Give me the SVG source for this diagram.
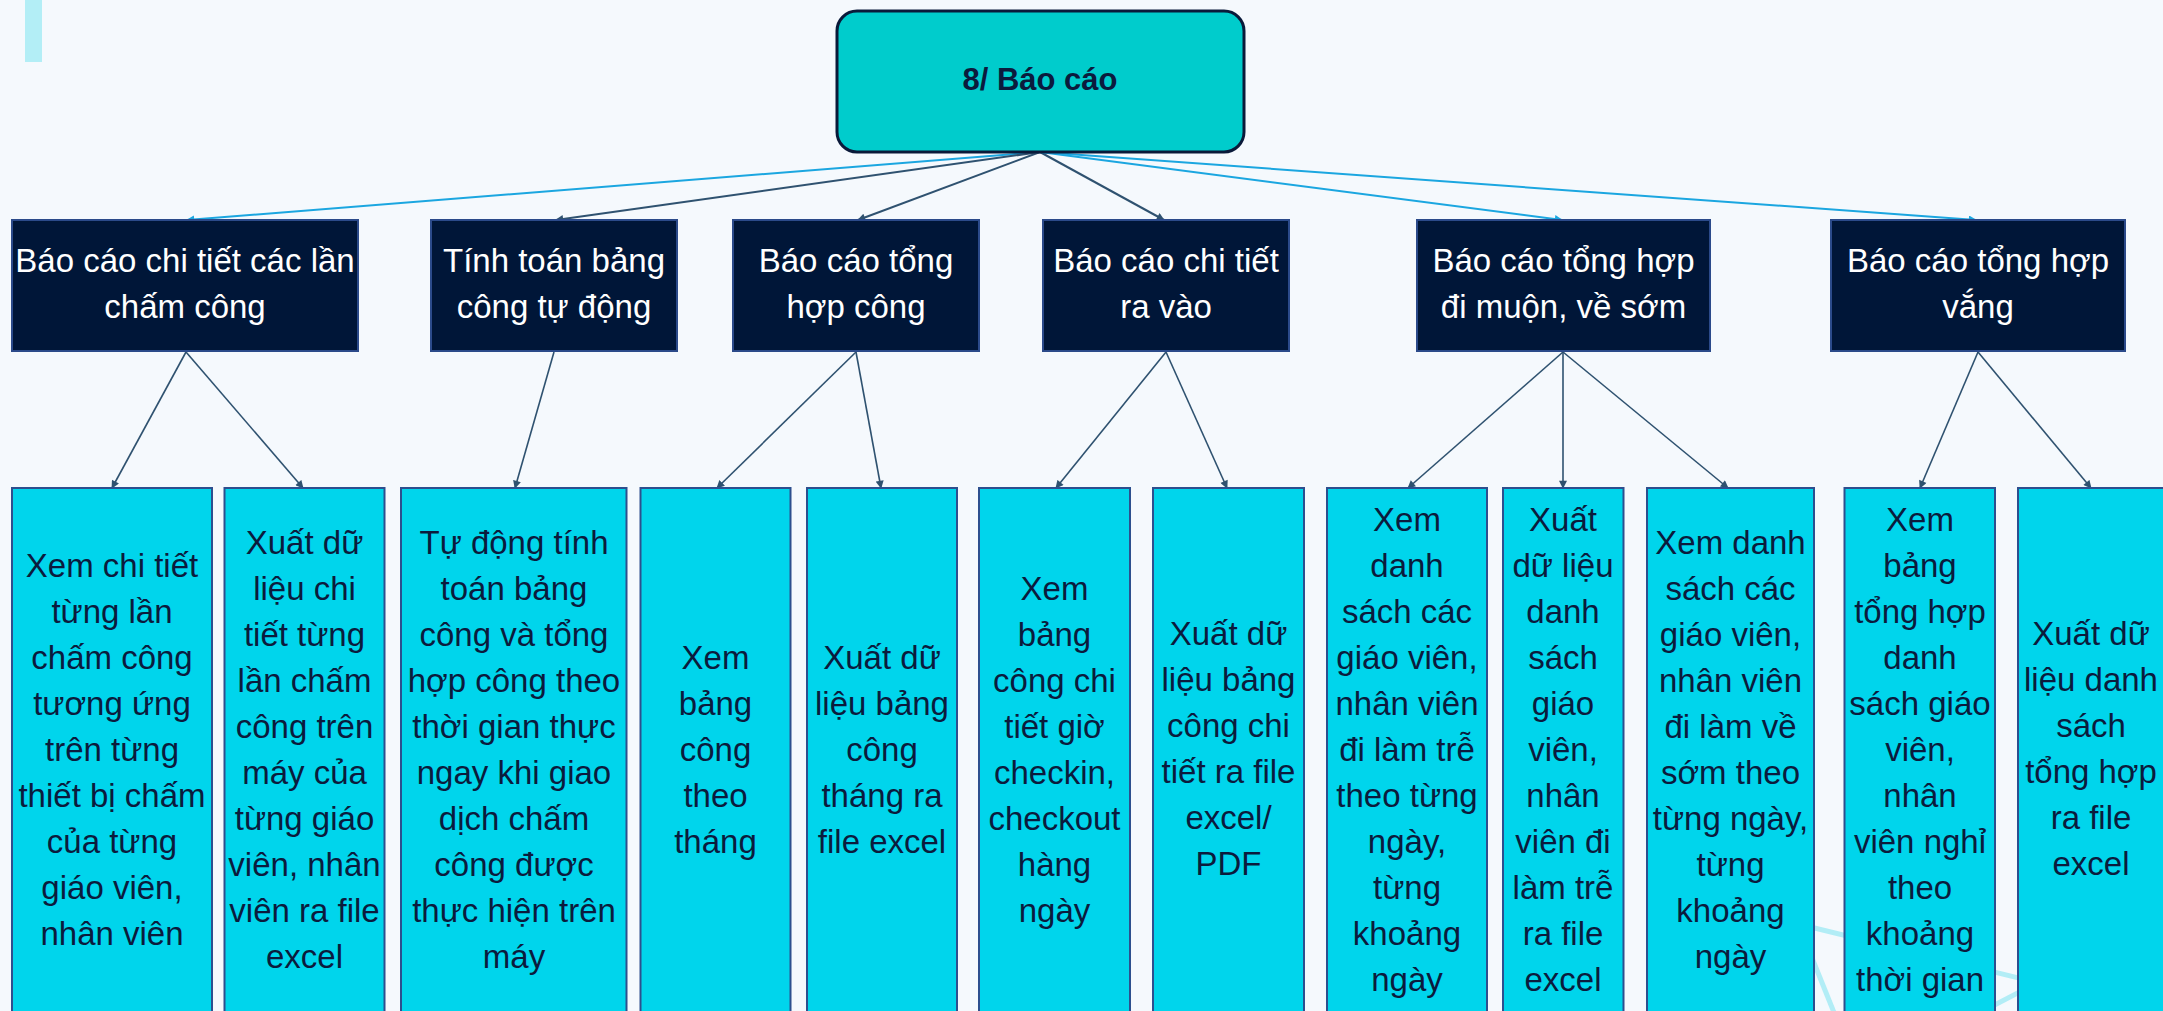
<svg xmlns="http://www.w3.org/2000/svg" width="2163" height="1011" viewBox="0 0 2163 1011">
<defs>
<style>
.bg{fill:#f5f9fd}
.root{fill:#00cccc;stroke:#0a1a3a;stroke-width:3}
.rt{font-family:"Liberation Sans",Arial,sans-serif;font-weight:bold;font-size:31px;fill:#0b1b3d;text-anchor:middle}
.l2{fill:#001638;stroke:#2b4a8a;stroke-width:2}
.t2{font-family:"Liberation Sans",Arial,sans-serif;font-size:33px;fill:#ffffff;text-anchor:middle}
.l3{fill:#00d5ec;stroke:#2d4f8e;stroke-width:2}
.t3{font-family:"Liberation Sans",Arial,sans-serif;font-size:33px;fill:#0b1b3d;text-anchor:middle}
.cb{stroke:#1ba6e0;stroke-width:2;fill:none;marker-end:url(#ab)}
.cd{stroke:#2f5270;stroke-width:2;fill:none;marker-end:url(#ad)}
.cs{stroke:#2f5270;stroke-width:1.6;fill:none;marker-end:url(#ad)}
.deco{stroke:#b2edf6;stroke-width:5;fill:none}
</style>
<marker id="ab" viewBox="0 0 10 10" refX="9" refY="5" markerWidth="9" markerHeight="8" markerUnits="userSpaceOnUse" orient="auto"><path d="M0,0 L10,5 L0,10 z" fill="#1ba6e0"/></marker>
<marker id="ad" viewBox="0 0 10 10" refX="9" refY="5" markerWidth="9" markerHeight="8" markerUnits="userSpaceOnUse" orient="auto"><path d="M0,0 L10,5 L0,10 z" fill="#2f5270"/></marker>
</defs>
<rect class="bg" x="0" y="0" width="2163" height="1011"/>
<rect x="25" y="0" width="17" height="62" fill="#b3eef6"/>
<g id="decoration">
<line class="deco" x1="1790" y1="922" x2="2035" y2="982"/>
<line class="deco" x1="1800" y1="928" x2="1835" y2="1015"/>
<line class="deco" x1="1960" y1="1023" x2="2035" y2="984"/>
</g>
<g id="connectors">
<line class="cb" x1="1040" y1="152" x2="187" y2="220"/>
<line class="cd" x1="1040" y1="152" x2="556" y2="220"/>
<line class="cd" x1="1040" y1="152" x2="858" y2="220"/>
<line class="cd" x1="1040" y1="152" x2="1164" y2="220"/>
<line class="cb" x1="1040" y1="152" x2="1562" y2="220"/>
<line class="cb" x1="1040" y1="152" x2="1976" y2="220"/>
<line class="cs" x1="186" y1="352" x2="112" y2="488"/>
<line class="cs" x1="186" y1="352" x2="303" y2="488"/>
<line class="cs" x1="554" y1="352" x2="515" y2="488"/>
<line class="cs" x1="856" y1="352" x2="717" y2="488"/>
<line class="cs" x1="856" y1="352" x2="881" y2="488"/>
<line class="cs" x1="1166" y1="352" x2="1056" y2="488"/>
<line class="cs" x1="1166" y1="352" x2="1227" y2="488"/>
<line class="cs" x1="1563" y1="352" x2="1408" y2="488"/>
<line class="cs" x1="1563" y1="352" x2="1563" y2="488"/>
<line class="cs" x1="1563" y1="352" x2="1728" y2="488"/>
<line class="cs" x1="1978" y1="352" x2="1920" y2="488"/>
<line class="cs" x1="1978" y1="352" x2="2091" y2="488"/>
</g>
<g id="root">
<rect class="root" x="837" y="11" width="407" height="141" rx="20"/>
<text class="rt" x="1040" y="90">8/ Báo cáo</text>
</g>
<g id="n1"><rect class="l2" x="12" y="220" width="346" height="131"/>
<text class="t2" x="185" y="272">Báo cáo chi tiết các lần<tspan x="185" dy="46">chấm công</tspan></text></g>
<g id="n2"><rect class="l2" x="431" y="220" width="246" height="131"/>
<text class="t2" x="554" y="272">Tính toán bảng<tspan x="554" dy="46">công tự động</tspan></text></g>
<g id="n3"><rect class="l2" x="733" y="220" width="246" height="131"/>
<text class="t2" x="856" y="272">Báo cáo tổng<tspan x="856" dy="46">hợp công</tspan></text></g>
<g id="n4"><rect class="l2" x="1043" y="220" width="246" height="131"/>
<text class="t2" x="1166" y="272">Báo cáo chi tiết<tspan x="1166" dy="46">ra vào</tspan></text></g>
<g id="n5"><rect class="l2" x="1417" y="220" width="293" height="131"/>
<text class="t2" x="1563.5" y="272">Báo cáo tổng hợp<tspan x="1563.5" dy="46">đi muộn, về sớm</tspan></text></g>
<g id="n6"><rect class="l2" x="1831" y="220" width="294" height="131"/>
<text class="t2" x="1978" y="272">Báo cáo tổng hợp<tspan x="1978" dy="46">vắng</tspan></text></g>
<g id="a"><rect class="l3" x="12" y="488" width="200" height="540"/>
<text class="t3" x="112" y="577">Xem chi tiết<tspan x="112" dy="46">từng lần</tspan><tspan x="112" dy="46">chấm công</tspan><tspan x="112" dy="46">tương ứng</tspan><tspan x="112" dy="46">trên từng</tspan><tspan x="112" dy="46">thiết bị chấm</tspan><tspan x="112" dy="46">của từng</tspan><tspan x="112" dy="46">giáo viên,</tspan><tspan x="112" dy="46">nhân viên</tspan></text></g>
<g id="b"><rect class="l3" x="224.5" y="488" width="160" height="540"/>
<text class="t3" x="304.5" y="554">Xuất dữ<tspan x="304.5" dy="46">liệu chi</tspan><tspan x="304.5" dy="46">tiết từng</tspan><tspan x="304.5" dy="46">lần chấm</tspan><tspan x="304.5" dy="46">công trên</tspan><tspan x="304.5" dy="46">máy của</tspan><tspan x="304.5" dy="46">từng giáo</tspan><tspan x="304.5" dy="46">viên, nhân</tspan><tspan x="304.5" dy="46">viên ra file</tspan><tspan x="304.5" dy="46">excel</tspan></text></g>
<g id="c"><rect class="l3" x="401" y="488" width="225.5" height="540"/>
<text class="t3" x="514" y="554">Tự động tính<tspan x="514" dy="46">toán bảng</tspan><tspan x="514" dy="46">công và tổng</tspan><tspan x="514" dy="46">hợp công theo</tspan><tspan x="514" dy="46">thời gian thực</tspan><tspan x="514" dy="46">ngay khi giao</tspan><tspan x="514" dy="46">dịch chấm</tspan><tspan x="514" dy="46">công được</tspan><tspan x="514" dy="46">thực hiện trên</tspan><tspan x="514" dy="46">máy</tspan></text></g>
<g id="d"><rect class="l3" x="640.5" y="488" width="150" height="540"/>
<text class="t3" x="715.5" y="669">Xem<tspan x="715.5" dy="46">bảng</tspan><tspan x="715.5" dy="46">công</tspan><tspan x="715.5" dy="46">theo</tspan><tspan x="715.5" dy="46">tháng</tspan></text></g>
<g id="e"><rect class="l3" x="807" y="488" width="150" height="540"/>
<text class="t3" x="882" y="669">Xuất dữ<tspan x="882" dy="46">liệu bảng</tspan><tspan x="882" dy="46">công</tspan><tspan x="882" dy="46">tháng ra</tspan><tspan x="882" dy="46">file excel</tspan></text></g>
<g id="f"><rect class="l3" x="979" y="488" width="151" height="540"/>
<text class="t3" x="1054.5" y="600">Xem<tspan x="1054.5" dy="46">bảng</tspan><tspan x="1054.5" dy="46">công chi</tspan><tspan x="1054.5" dy="46">tiết giờ</tspan><tspan x="1054.5" dy="46">checkin,</tspan><tspan x="1054.5" dy="46">checkout</tspan><tspan x="1054.5" dy="46">hàng</tspan><tspan x="1054.5" dy="46">ngày</tspan></text></g>
<g id="g"><rect class="l3" x="1153" y="488" width="151" height="540"/>
<text class="t3" x="1228.5" y="645">Xuất dữ<tspan x="1228.5" dy="46">liệu bảng</tspan><tspan x="1228.5" dy="46">công chi</tspan><tspan x="1228.5" dy="46">tiết ra file</tspan><tspan x="1228.5" dy="46">excel/</tspan><tspan x="1228.5" dy="46">PDF</tspan></text></g>
<g id="h"><rect class="l3" x="1327" y="488" width="160" height="540"/>
<text class="t3" x="1407" y="531">Xem<tspan x="1407" dy="46">danh</tspan><tspan x="1407" dy="46">sách các</tspan><tspan x="1407" dy="46">giáo viên,</tspan><tspan x="1407" dy="46">nhân viên</tspan><tspan x="1407" dy="46">đi làm trễ</tspan><tspan x="1407" dy="46">theo từng</tspan><tspan x="1407" dy="46">ngày,</tspan><tspan x="1407" dy="46">từng</tspan><tspan x="1407" dy="46">khoảng</tspan><tspan x="1407" dy="46">ngày</tspan></text></g>
<g id="i"><rect class="l3" x="1503" y="488" width="120.5" height="540"/>
<text class="t3" x="1563" y="531">Xuất<tspan x="1563" dy="46">dữ liệu</tspan><tspan x="1563" dy="46">danh</tspan><tspan x="1563" dy="46">sách</tspan><tspan x="1563" dy="46">giáo</tspan><tspan x="1563" dy="46">viên,</tspan><tspan x="1563" dy="46">nhân</tspan><tspan x="1563" dy="46">viên đi</tspan><tspan x="1563" dy="46">làm trễ</tspan><tspan x="1563" dy="46">ra file</tspan><tspan x="1563" dy="46">excel</tspan></text></g>
<g id="j"><rect class="l3" x="1647" y="488" width="167" height="540"/>
<text class="t3" x="1730.5" y="554">Xem danh<tspan x="1730.5" dy="46">sách các</tspan><tspan x="1730.5" dy="46">giáo viên,</tspan><tspan x="1730.5" dy="46">nhân viên</tspan><tspan x="1730.5" dy="46">đi làm về</tspan><tspan x="1730.5" dy="46">sớm theo</tspan><tspan x="1730.5" dy="46">từng ngày,</tspan><tspan x="1730.5" dy="46">từng</tspan><tspan x="1730.5" dy="46">khoảng</tspan><tspan x="1730.5" dy="46">ngày</tspan></text></g>
<g id="k"><rect class="l3" x="1844.5" y="488" width="150.5" height="540"/>
<text class="t3" x="1920" y="531">Xem<tspan x="1920" dy="46">bảng</tspan><tspan x="1920" dy="46">tổng hợp</tspan><tspan x="1920" dy="46">danh</tspan><tspan x="1920" dy="46">sách giáo</tspan><tspan x="1920" dy="46">viên,</tspan><tspan x="1920" dy="46">nhân</tspan><tspan x="1920" dy="46">viên nghỉ</tspan><tspan x="1920" dy="46">theo</tspan><tspan x="1920" dy="46">khoảng</tspan><tspan x="1920" dy="46">thời gian</tspan></text></g>
<g id="l"><rect class="l3" x="2018" y="488" width="146" height="540"/>
<text class="t3" x="2091" y="645">Xuất dữ<tspan x="2091" dy="46">liệu danh</tspan><tspan x="2091" dy="46">sách</tspan><tspan x="2091" dy="46">tổng hợp</tspan><tspan x="2091" dy="46">ra file</tspan><tspan x="2091" dy="46">excel</tspan></text></g>
</svg>
